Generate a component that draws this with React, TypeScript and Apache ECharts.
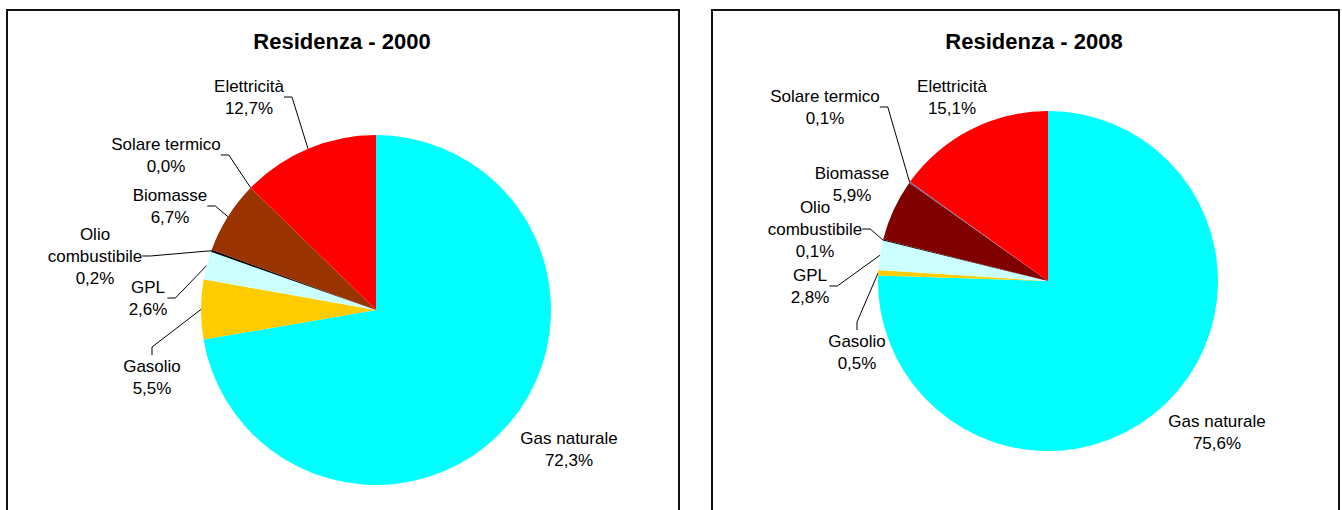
import React, { useEffect, useRef } from "react";
import * as echarts from "echarts";

const categories = ["Gas naturale", "Gasolio", "GPL", "Olio combustibile", "Biomasse", "Solare termico", "Elettricità"];
const values2000 = [72.3, 5.5, 2.6, 0.2, 6.7, 0.0, 12.7];
const values2008 = [75.6, 0.5, 2.8, 0.1, 5.9, 0.1, 15.1];
const titles = ["Residenza - 2000", "Residenza - 2008"];

const colors2000 = ["#00FFFF", "#FFCC00", "#CCFFFF", "#000000", "#993300", "#666699", "#FF0000"];
const colors2008 = ["#00FFFF", "#FFCC00", "#CCFFFF", "#000000", "#800000", "#666699", "#FF0000"];

const showLine2000 = [false, true, true, true, true, true, true];
const showLine2008 = [false, true, true, true, false, true, false];

// label block centres (layout)
const labelPos2000 = [[569, 449], [152, 377], [148, 298], [95, 256], [170, 206], [166, 155], [249, 97]];
const labelPos2008 = [[1217, 432], [857, 352], [810, 286], [815, 229], [852, 184], [825, 107], [952, 97]];

const FONT = "'Liberation Sans', Arial, sans-serif";

function fmt(v: number) {
  return v.toFixed(1).replace(".", ",") + "%";
}

function labelText(name: string) {
  return name === "Olio combustibile" ? "Olio\ncombustibile" : name;
}

function buildSeries(values: number[], colors: string[], showLine: boolean[], pos: number[][], center: number[], radius: number) {
  return {
    type: "pie",
    center,
    radius,
    startAngle: 90,
    clockwise: true,
    avoidLabelOverlap: false,
    silent: true,
    stillShowZeroSum: true,
    minShowLabelAngle: 0,
    itemStyle: { borderWidth: 0 },
    label: {
      show: true,
      position: "outside",
      color: "#000",
      fontFamily: FONT,
      fontSize: 17,
      lineHeight: 22,
      align: "center",
      formatter: (p: any) => labelText(p.name) + "\n" + fmt(p.value),
    },
    labelLine: {
      show: true,
      length: 8,
      length2: 8,
      smooth: false,
      lineStyle: { color: "#000", width: 1 },
    },
    labelLayout: (p: any) => {
      const q = pos[p.dataIndex];
      return { x: q[0], y: q[1], align: "center", verticalAlign: "middle" };
    },
    data: categories.map((c, i) => ({
      name: c,
      value: values[i],
      itemStyle: { color: colors[i] },
      labelLine: { show: showLine[i] },
    })),
  };
}

export default function App() {
  const ref = useRef<HTMLDivElement>(null);
  useEffect(() => {
    if (!ref.current) return;
    const chart = echarts.init(ref.current, null, { renderer: "svg" });
    chart.setOption({
      animation: false,
      backgroundColor: "#fff",
      graphic: [
        { type: "rect", shape: { x: 7, y: 10, width: 672, height: 520 }, style: { fill: "none", stroke: "#111", lineWidth: 2 } },
        { type: "rect", shape: { x: 712, y: 10, width: 627, height: 520 }, style: { fill: "none", stroke: "#111", lineWidth: 2 } },
        { type: "text", x: 342, y: 41, style: { text: titles[0], font: `bold 22px ${FONT}`, fill: "#000", align: "center", verticalAlign: "middle" } },
        { type: "text", x: 1034, y: 41, style: { text: titles[1], font: `bold 22px ${FONT}`, fill: "#000", align: "center", verticalAlign: "middle" } },
      ],
      series: [
        buildSeries(values2000, colors2000, showLine2000, labelPos2000, [376, 310], 175),
        buildSeries(values2008, colors2008, showLine2008, labelPos2008, [1048, 281], 170),
      ],
    });
    return () => chart.dispose();
  }, []);
  return <div ref={ref} style={{ position: "absolute", left: 0, top: 0, width: 1342, height: 510 }} />;
}
